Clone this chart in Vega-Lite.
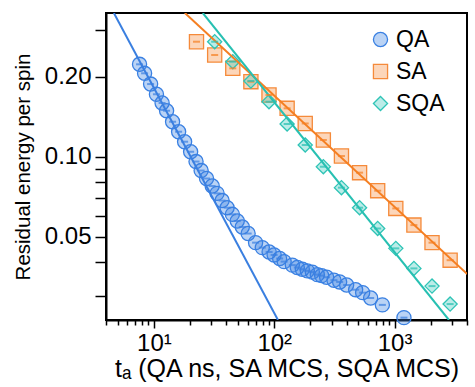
{
  "$schema": "https://vega.github.io/schema/vega-lite/v6.json",
  "width": 361,
  "height": 307,
  "autosize": {"type": "none"},
  "padding": {"left": 106, "top": 13, "right": 8, "bottom": 67},
  "background": "white",
  "config": {
    "font": "Liberation Sans",
    "view": {"stroke": "black", "strokeWidth": 2},
    "axis": {"grid": false, "domainColor": "black", "domainWidth": 2, "tickColor": "black", "tickWidth": 1.5, "labelColor": "black", "titleColor": "black", "labelFont": "Liberation Sans", "titleFont": "Liberation Sans", "titleFontWeight": "normal"},
    "legend": {"orient": "none", "legendX": 263, "legendY": 15, "labelFontSize": 23, "labelFont": "Liberation Sans", "labelColor": "black", "symbolSize": 200, "symbolStrokeWidth": 1.3, "rowPadding": 8, "labelOffset": 4, "padding": 0, "title": null}
  },
  "datasets": {
    "pts": [
      {"series": "QA", "t": 7.6, "e": 0.2227},
      {"series": "QA", "t": 8.37, "e": 0.206},
      {"series": "QA", "t": 9.39, "e": 0.1877},
      {"series": "QA", "t": 10.5, "e": 0.1718},
      {"series": "QA", "t": 11.7, "e": 0.1593},
      {"series": "QA", "t": 12.75, "e": 0.149},
      {"series": "QA", "t": 14.3, "e": 0.1354},
      {"series": "QA", "t": 16.05, "e": 0.1242},
      {"series": "QA", "t": 18.0, "e": 0.1139},
      {"series": "QA", "t": 20.2, "e": 0.1044},
      {"series": "QA", "t": 22.4, "e": 0.0959},
      {"series": "QA", "t": 24.7, "e": 0.0887},
      {"series": "QA", "t": 27.4, "e": 0.0828},
      {"series": "QA", "t": 30.5, "e": 0.0776},
      {"series": "QA", "t": 33.5, "e": 0.0728},
      {"series": "QA", "t": 36.9, "e": 0.0684},
      {"series": "QA", "t": 40.6, "e": 0.0643},
      {"series": "QA", "t": 44.9, "e": 0.0607},
      {"series": "QA", "t": 49.3, "e": 0.0573},
      {"series": "QA", "t": 54.3, "e": 0.0544},
      {"series": "QA", "t": 60.7, "e": 0.0514},
      {"series": "QA", "t": 70.0, "e": 0.0475},
      {"series": "QA", "t": 79.6, "e": 0.0455},
      {"series": "QA", "t": 90.7, "e": 0.0438},
      {"series": "QA", "t": 99.8, "e": 0.0427},
      {"series": "QA", "t": 110.9, "e": 0.0414},
      {"series": "QA", "t": 120.9, "e": 0.0403},
      {"series": "QA", "t": 141.4, "e": 0.0391},
      {"series": "QA", "t": 155.6, "e": 0.0383},
      {"series": "QA", "t": 171.2, "e": 0.0377},
      {"series": "QA", "t": 188.4, "e": 0.0372},
      {"series": "QA", "t": 207.4, "e": 0.0368},
      {"series": "QA", "t": 228.2, "e": 0.036},
      {"series": "QA", "t": 247.7, "e": 0.0357},
      {"series": "QA", "t": 272.6, "e": 0.0352},
      {"series": "QA", "t": 313.6, "e": 0.0343},
      {"series": "QA", "t": 349.7, "e": 0.0338},
      {"series": "QA", "t": 399.8, "e": 0.0329},
      {"series": "QA", "t": 474.9, "e": 0.0316},
      {"series": "QA", "t": 542.9, "e": 0.0308},
      {"series": "QA", "t": 632.9, "e": 0.0294},
      {"series": "QA", "t": 791.9, "e": 0.0277},
      {"series": "QA", "t": 1197, "e": 0.0248},
      {"series": "SA", "t": 22.6, "e": 0.2709},
      {"series": "SA", "t": 32, "e": 0.2414},
      {"series": "SA", "t": 45.25, "e": 0.2151},
      {"series": "SA", "t": 64, "e": 0.1916},
      {"series": "SA", "t": 90.5, "e": 0.1707},
      {"series": "SA", "t": 128, "e": 0.1521},
      {"series": "SA", "t": 181, "e": 0.1334},
      {"series": "SA", "t": 256, "e": 0.1156},
      {"series": "SA", "t": 362, "e": 0.1006},
      {"series": "SA", "t": 512, "e": 0.0871},
      {"series": "SA", "t": 724, "e": 0.0745},
      {"series": "SA", "t": 1024, "e": 0.0639},
      {"series": "SA", "t": 1448, "e": 0.0553},
      {"series": "SA", "t": 2048, "e": 0.0475},
      {"series": "SA", "t": 2896, "e": 0.0408},
      {"series": "SQA", "t": 32, "e": 0.2709},
      {"series": "SQA", "t": 45.25, "e": 0.2278},
      {"series": "SQA", "t": 64, "e": 0.1927},
      {"series": "SQA", "t": 90.5, "e": 0.1611},
      {"series": "SQA", "t": 128, "e": 0.1328},
      {"series": "SQA", "t": 181, "e": 0.1107},
      {"series": "SQA", "t": 256, "e": 0.0917},
      {"series": "SQA", "t": 362, "e": 0.0765},
      {"series": "SQA", "t": 512, "e": 0.0643},
      {"series": "SQA", "t": 724, "e": 0.0537},
      {"series": "SQA", "t": 1024, "e": 0.0452},
      {"series": "SQA", "t": 1448, "e": 0.038},
      {"series": "SQA", "t": 2048, "e": 0.0326},
      {"series": "SQA", "t": 2896, "e": 0.0279}
    ],
    "fits": [
      {"series": "QA", "t": 4.65, "e": 0.3474},
      {"series": "QA", "t": 107.4, "e": 0.0243},
      {"series": "SA", "t": 18.1, "e": 0.3474},
      {"series": "SA", "t": 4020, "e": 0.0362},
      {"series": "SQA", "t": 25.5, "e": 0.3474},
      {"series": "SQA", "t": 2832, "e": 0.0243}
    ]
  },
  "layer": [
    {
      "data": {"name": "pts"},
      "mark": {"type": "point", "filled": false, "strokeWidth": 1.3, "size": 200, "opacity": 1},
      "encoding": {
        "x": {
          "field": "t", "type": "quantitative",
          "scale": {"type": "log", "domain": [4, 4000], "nice": false},
          "axis": {
            "values": [4, 5, 6, 7, 8, 9, 10, 20, 30, 40, 50, 60, 70, 80, 90, 100, 200, 300, 400, 500, 600, 700, 800, 900, 1000, 2000, 3000, 4000],
            "labelExpr": "datum.value == 10 ? '10¹' : datum.value == 100 ? '10²' : datum.value == 1000 ? '10³' : ''",
            "tickSize": {"condition": {"test": "datum.value == 10 || datum.value == 100 || datum.value == 1000", "value": 8}, "value": 5},
            "labelFontSize": 24, "labelPadding": 3, "labelFlush": false, "labelOverlap": false,
            "title": "tₐ (QA ns, SA MCS, SQA MCS)", "titleFontSize": 25, "titlePadding": 1
          }
        },
        "y": {
          "field": "e", "type": "quantitative",
          "scale": {"type": "log", "domain": [0.0243, 0.3474], "nice": false},
          "axis": {
            "values": [0.03, 0.04, 0.05, 0.06, 0.07, 0.08, 0.09, 0.1, 0.2, 0.3],
            "labelExpr": "datum.value == 0.05 ? '0.05' : datum.value == 0.1 ? '0.10' : datum.value == 0.2 ? '0.20' : ''",
            "tickSize": 11, "labelFontSize": 24, "labelPadding": 4, "labelFlush": false, "labelOverlap": false,
            "title": "Residual energy per spin", "titleFontSize": 20.5, "titlePadding": 11
          }
        },
        "fill": {"field": "series", "type": "nominal", "scale": {"domain": ["QA", "SA", "SQA"], "range": ["rgba(58,128,226,0.35)", "rgba(245,138,58,0.35)", "rgba(47,196,182,0.32)"]}},
        "stroke": {"field": "series", "type": "nominal", "scale": {"domain": ["QA", "SA", "SQA"], "range": ["#3a80e2", "#f58a3a", "#2fc4b6"]}},
        "shape": {"field": "series", "type": "nominal", "scale": {"domain": ["QA", "SA", "SQA"], "range": ["circle", "square", "diamond"]}}
      }
    },
    {
      "data": {"name": "fits"},
      "mark": {"type": "line", "strokeWidth": 2, "clip": true},
      "encoding": {
        "x": {"field": "t", "type": "quantitative"},
        "y": {"field": "e", "type": "quantitative"},
        "detail": {"field": "series"},
        "color": {"field": "series", "type": "nominal", "scale": {"domain": ["QA", "SA", "SQA"], "range": ["#3a7fe0", "#f57f22", "#27c0b2"]}, "legend": null}
      }
    },
    {
      "data": {"name": "pts"},
      "mark": {"type": "tick", "orient": "horizontal", "size": 7, "thickness": 2},
      "encoding": {
        "x": {"field": "t", "type": "quantitative"},
        "y": {"field": "e", "type": "quantitative"},
        "color": {"field": "series", "type": "nominal", "scale": {"domain": ["QA", "SA", "SQA"], "range": ["#3a7fe0", "#f57f22", "#27c0b2"]}, "legend": null}
      }
    }
  ],
  "resolve": {"scale": {"color": "independent"}}
}
